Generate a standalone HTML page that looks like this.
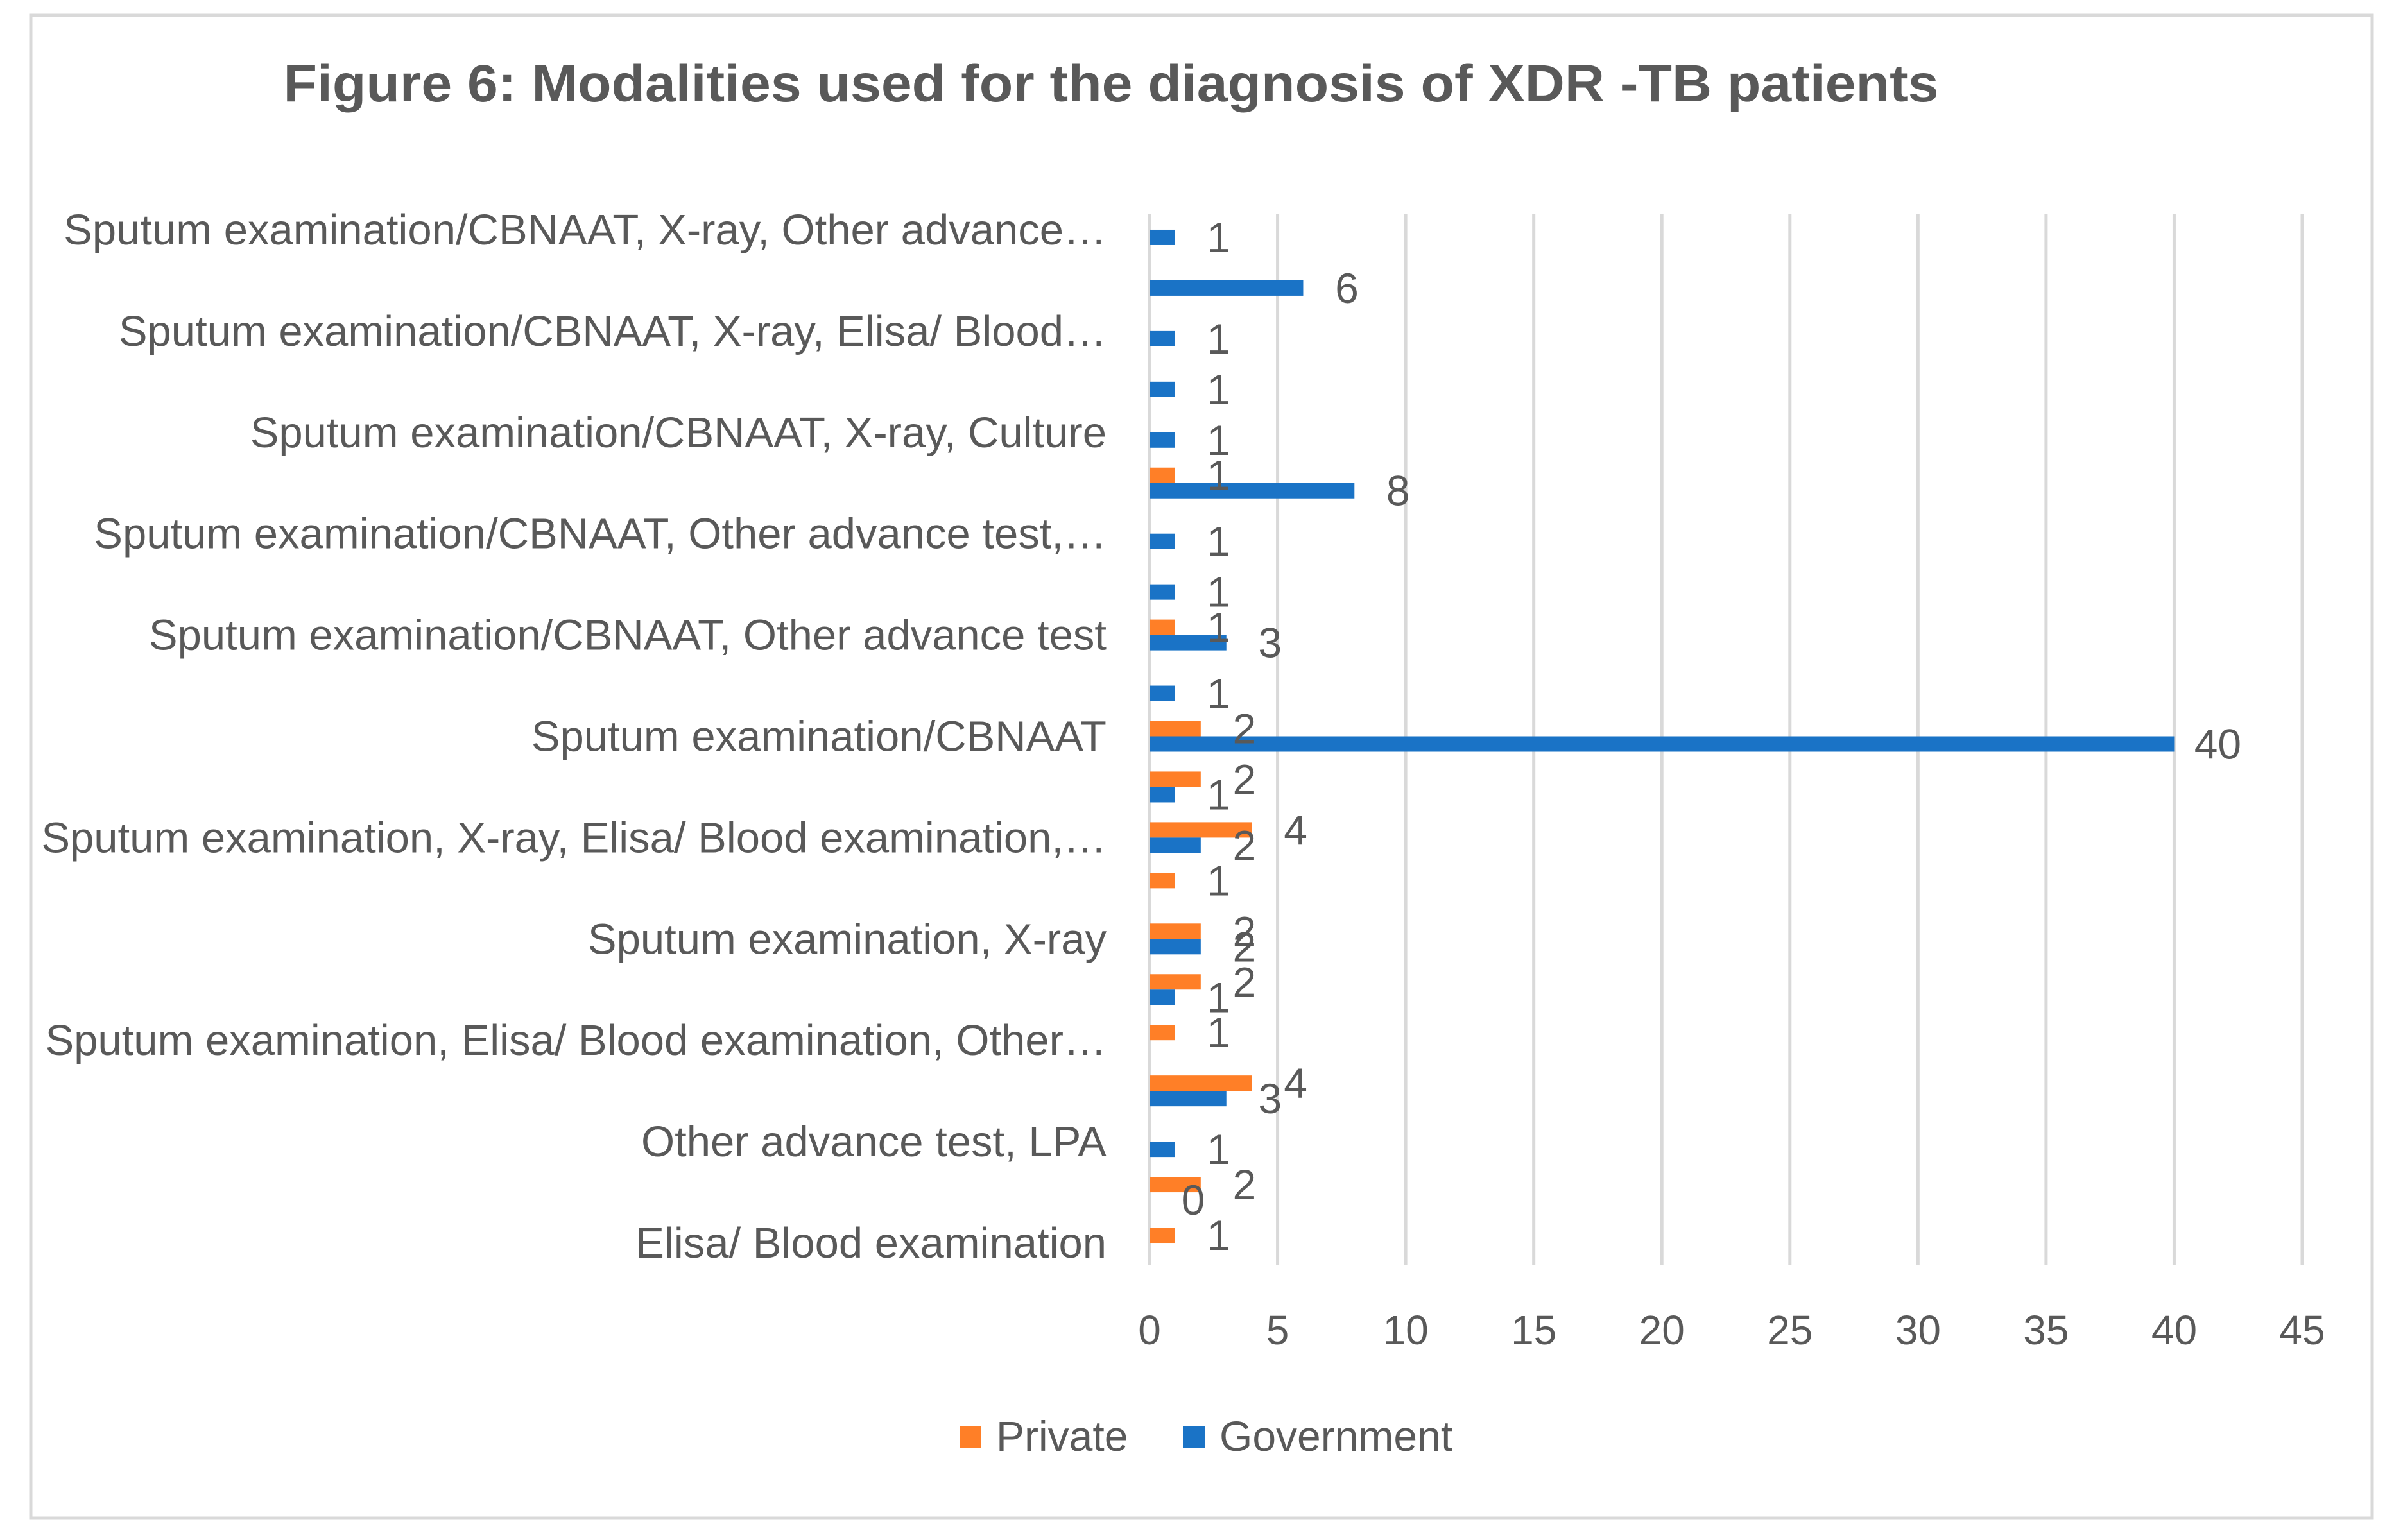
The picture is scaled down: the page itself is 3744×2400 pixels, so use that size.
<!DOCTYPE html>
<html><head><meta charset="utf-8"><style>
html,body{margin:0;padding:0;background:#fff;}
svg{display:block;font-family:"Liberation Sans",sans-serif;}
</style></head><body>
<svg id="chart" width="3744" height="2400" viewBox="0 0 3744 2400">
<rect x="48" y="24" width="3648" height="2342" fill="#fff" stroke="#d9d9d9" stroke-width="5"/>
<text x="1731" y="158" text-anchor="middle" font-size="82" font-weight="bold" fill="#595959" textLength="2579" lengthAdjust="spacingAndGlyphs">Figure 6: Modalities used for the diagnosis of XDR -TB patients</text>
<g id="grid"></g><g id="bars"></g><g id="labels"></g><g id="cats"></g><g id="ticks"></g>
<g>
<rect x="1495" y="2222" width="34" height="34" fill="#ff7f27"/>
<text x="1552" y="2261" font-size="66" fill="#595959">Private</text>
<rect x="1843" y="2222" width="34" height="34" fill="#1a73c6"/>
<text x="1900" y="2261" font-size="66" fill="#595959">Government</text>
</g>
</svg>
<script>
const categories = ["Elisa/ Blood examination","","Other advance test, LPA","","Sputum examination, Elisa/ Blood examination, Other\u2026","","Sputum examination, X-ray","","Sputum examination, X-ray, Elisa/ Blood examination,\u2026","","Sputum examination/CBNAAT","","Sputum examination/CBNAAT, Other advance test","","Sputum examination/CBNAAT, Other advance test,\u2026","","Sputum examination/CBNAAT, X-ray, Culture","","Sputum examination/CBNAAT, X-ray, Elisa/ Blood\u2026","","Sputum examination/CBNAAT, X-ray, Other advance\u2026"];
const privateValues = [1,2,null,4,1,2,2,1,4,2,2,null,1,null,null,1,null,null,null,null,null];
const governmentValues = [null,0,1,3,null,1,2,null,2,1,40,1,3,1,1,8,1,1,1,6,1];
const xTicks = [0,5,10,15,20,25,30,35,40,45];

const NS="http://www.w3.org/2000/svg";
const X0=1791, X1=3587, XMAX=45, GTOP=334, GBOTTOM=1972, TOP=318.5, BOTTOM=1976.5;
const catH=(BOTTOM-TOP)/categories.length;
function x(v){return X0+(v/XMAX)*(X1-X0);}
function yc(i){return BOTTOM-(i+0.5)*catH;}
function mk(tag,attrs,parent){const e=document.createElementNS(NS,tag);for(const k in attrs)e.setAttribute(k,attrs[k]);document.getElementById(parent).appendChild(e);return e;}

xTicks.forEach(t=>{
  const g=mk('line',{x1:x(t),x2:x(t),y1:GTOP,y2:GBOTTOM,stroke:'#d9d9d9','stroke-width':5},'grid');
  
  
  const tl=mk('text',{x:x(t),y:2095,'text-anchor':'middle','font-size':64,fill:'#595959'},'ticks');
  tl.textContent=t;
  
  
});

const BH=24;
categories.forEach((c,i)=>{
  if(c){
    const t=mk('text',{x:1724,y:yc(i)+23,'text-anchor':'end','font-size':67,fill:'#595959'},'cats');
    t.textContent=c;
    
    
  }
  const p=privateValues[i];
  if(p!==null){
    const r=mk('rect',{x:x(0),y:yc(i)-BH,width:x(p)-x(0),height:BH,fill:'#ff7f27'},'bars');
    
    
    const l=mk('text',{x:x(p)+68,y:yc(i)-BH/2+23,'text-anchor':'middle','font-size':66,fill:'#595959'},'labels');
    l.textContent=p;
    
    
  }
  const g=governmentValues[i];
  if(g!==null){
    const r=mk('rect',{x:x(0),y:yc(i),width:x(g)-x(0),height:BH,fill:'#1a73c6'},'bars');
    
    
    const l=mk('text',{x:x(g)+68,y:yc(i)+BH/2+23,'text-anchor':'middle','font-size':66,fill:'#595959'},'labels');
    l.textContent=g;
    
    
  }
});
</script>
</body></html>
